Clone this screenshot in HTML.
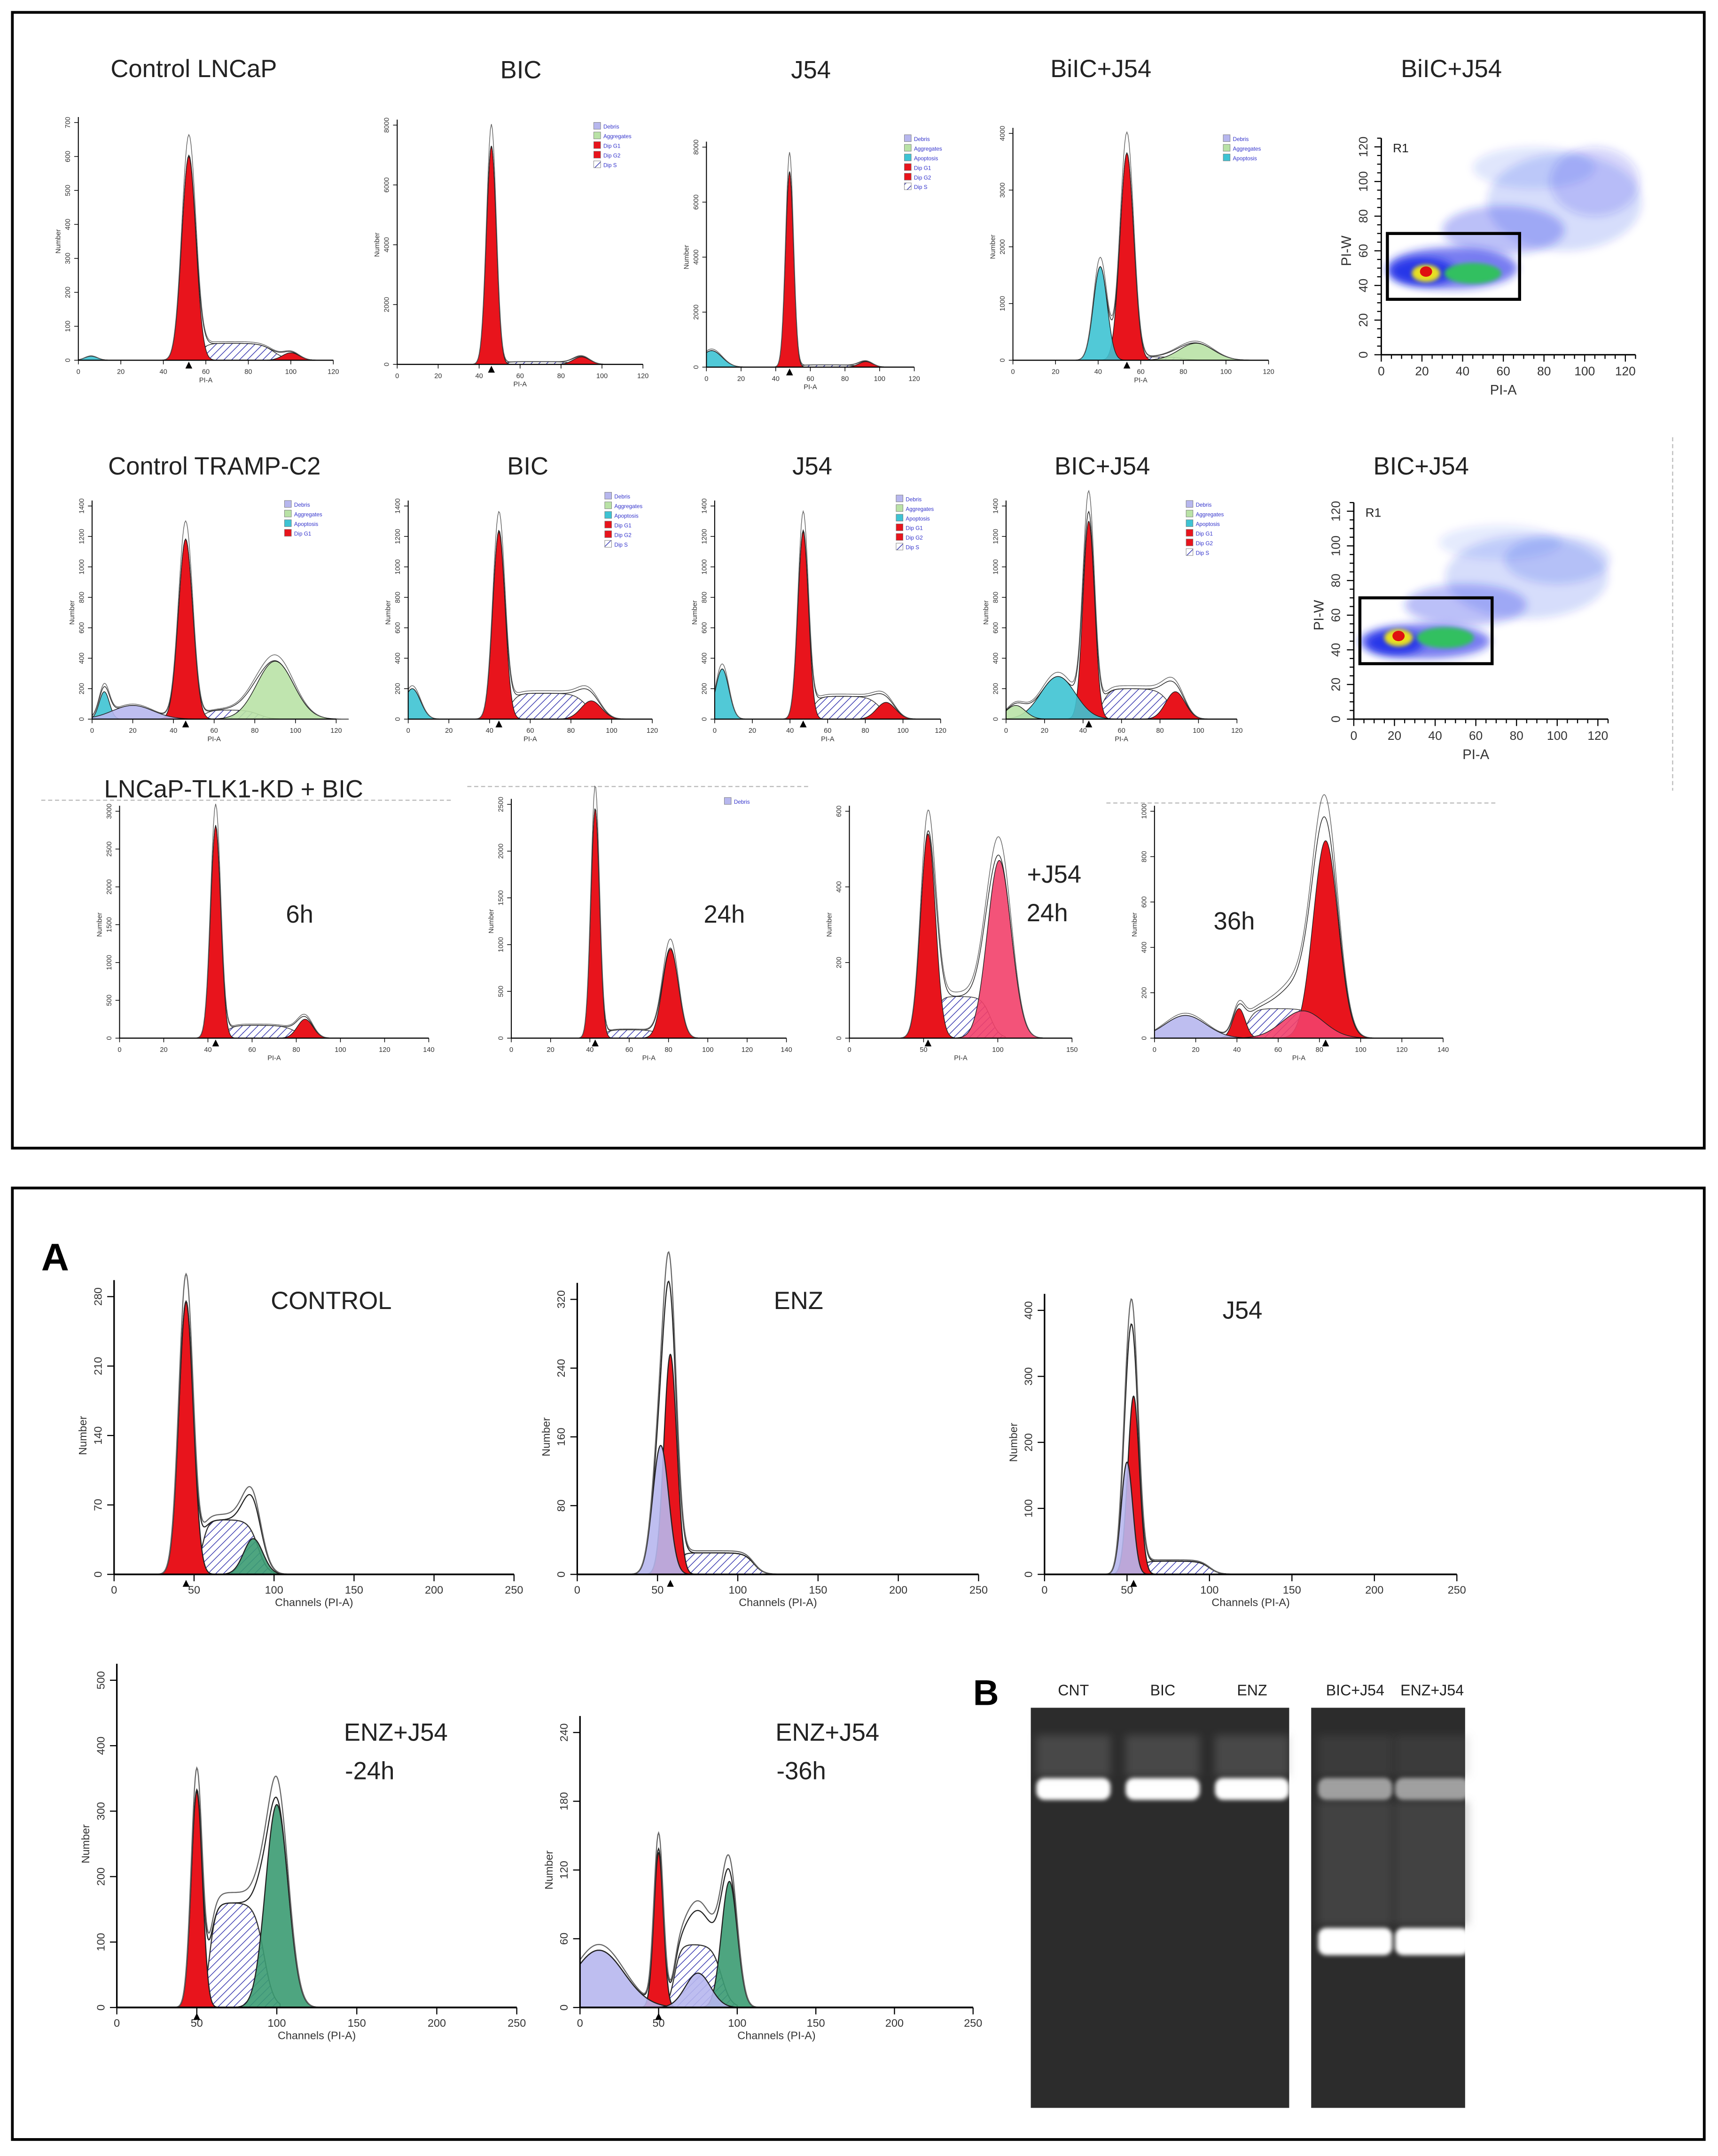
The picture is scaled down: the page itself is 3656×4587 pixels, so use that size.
<!DOCTYPE html>
<html><head><meta charset="utf-8"><style>
html,body{margin:0;padding:0;background:#fff}
svg{display:block}
text{font-family:"Liberation Sans",sans-serif}
</style></head><body>
<svg id="fig" xmlns="http://www.w3.org/2000/svg" width="3656" height="4587" viewBox="0 0 1250 1568" preserveAspectRatio="none">
<defs>
<pattern id="hatch" patternUnits="userSpaceOnUse" width="4" height="4" patternTransform="rotate(45)">
<rect width="4" height="4" fill="#fff"/><line x1="0" y1="0" x2="0" y2="4" stroke="#3a3ab0" stroke-width="1"/></pattern>
<filter id="blur" x="-50%" y="-50%" width="200%" height="200%"><feGaussianBlur stdDeviation="3"/></filter>
<filter id="blur2" x="-50%" y="-50%" width="200%" height="200%"><feGaussianBlur stdDeviation="1.5"/></filter>
</defs>
<rect x="0" y="0" width="1250" height="1568" fill="#fff"/>
<rect x="9" y="9" width="1231" height="826" fill="none" stroke="#000" stroke-width="2"/>
<rect x="9" y="864" width="1231" height="692" fill="none" stroke="#000" stroke-width="2"/>
<g id="titles" font-size="18" fill="#222">
<text x="141" y="56" text-anchor="middle">Control LNCaP</text>
<text x="379" y="57" text-anchor="middle">BIC</text>
<text x="590" y="57" text-anchor="middle">J54</text>
<text x="801" y="56" text-anchor="middle">BiIC+J54</text>
<text x="1056" y="56" text-anchor="middle">BiIC+J54</text>
<text x="156" y="345" text-anchor="middle">Control TRAMP-C2</text>
<text x="384" y="345" text-anchor="middle">BIC</text>
<text x="591" y="345" text-anchor="middle">J54</text>
<text x="802" y="345" text-anchor="middle">BIC+J54</text>
<text x="1034" y="345" text-anchor="middle">BIC+J54</text>
<text x="170" y="580" text-anchor="middle">LNCaP-TLK1-KD + BIC</text>
<text x="218" y="671" text-anchor="middle">6h</text>
<text x="527" y="671" text-anchor="middle">24h</text>
<text x="767" y="642" text-anchor="middle">+J54</text>
<text x="762" y="670" text-anchor="middle">24h</text>
<text x="898" y="676" text-anchor="middle">36h</text>
<text x="241" y="952" text-anchor="middle">CONTROL</text>
<text x="581" y="952" text-anchor="middle">ENZ</text>
<text x="904" y="959" text-anchor="middle">J54</text>
<text x="288" y="1266" text-anchor="middle">ENZ+J54</text>
<text x="269" y="1294" text-anchor="middle">-24h</text>
<text x="602" y="1266" text-anchor="middle">ENZ+J54</text>
<text x="583" y="1294" text-anchor="middle">-36h</text>
</g>
<text x="30" y="924" font-size="28" font-weight="bold">A</text>
<text x="708" y="1240" font-size="26" font-weight="bold">B</text>
<line x1="30" y1="582" x2="330" y2="582" stroke="#bbb" stroke-width="0.8" stroke-dasharray="3,2"/>
<line x1="340" y1="572" x2="590" y2="572" stroke="#bbb" stroke-width="0.8" stroke-dasharray="3,2"/>
<line x1="805" y1="584" x2="1090" y2="584" stroke="#bbb" stroke-width="0.8" stroke-dasharray="3,2"/>
<line x1="1217" y1="318" x2="1217" y2="575" stroke="#bbb" stroke-width="0.8" stroke-dasharray="3,2"/>
<g id="charts"></g>
<g id="gel"></g>
</svg>
<script>
// ---- histogram data: components [center, height, sigma]; S-phase [lo, hi, height]
const t1Comps=[[52,600,3.3],[100,22,4],[6,12,3]];
const t1S=[57,92,50];
const t2Comps=[[46,7300,2.4],[90,250,4]];
const t2S=[52,86,90];
const t3Comps=[[48,7100,2.3],[3,600,6],[92,200,4]];
const t3S=[53,88,80];
const t4Comps=[[53.5,3650,3.2],[41,1650,3.2],[86,300,8]];
const t4S=[58,80,60];
const r1Comps=[[46,1180,3.5],[90,380,9],[6,180,2.5],[20,90,10]];
const r1S=[55,82,60];
const r2Comps=[[44.6,1230,3],[90,120,5],[2,200,4]];
const r2S=[50,88,170];
const r3Comps=[[47,1230,2.8],[4,330,3.5],[91,110,5]];
const r3S=[52,88,150];
const r4Comps=[[43,1300,3],[27,280,9],[88,180,5],[5,90,5]];
const r4S=[50,85,200];
const b1Comps=[[43.5,2800,2.3],[84,250,3.5]];
const b1S=[48,80,170];
const b2Comps=[[42.7,2450,2.2],[81,950,4]];
const b2S=[47,76,90];
const b3Comps=[[53,540,5],[101,470,8]];
const b3S=[58,95,110];
const b4Comps=[[83,870,6],[41,130,3],[15,100,10],[72,120,10]];
const b4S=[45,80,130];
const c1Comps=[[45,275,4.5],[87,36,6]];
const c1S=[55,90,55];
const c2Comps=[[58,256,4],[52,150,5]];
const c2S=[62,110,25];
const c3Comps=[[54,270,3.5],[50,170,3.5]];
const c3S=[58,100,20];
const c4Comps=[[50,330,3.5],[100,310,7]];
const c4S=[58,92,160];
const c5Comps=[[50,135,3],[95,110,5],[12,50,16],[75,30,8]];
const c5S=[60,90,55];
// tick labels
const tickX120=[0,20,40,60,80,100,120];
const tickX140=[0,20,40,60,80,100,120,140];
const tickX150=[0,50,100,150];
const tickX250=[0,50,100,150,200,250];
const tickY700=[0,100,200,300,400,500,600,700];
const tickY8000=[0,2000,4000,6000,8000];
const tickY4000=[0,1000,2000,3000,4000];
const tickY1400=[0,200,400,600,800,1000,1200,1400];
const tickY3000=[0,500,1000,1500,2000,2500,3000];
const tickY2500=[0,500,1000,1500,2000,2500];
const tickY600=[0,200,400,600];
const tickY1000=[0,200,400,600,800,1000];
const tickYc1=[0,70,140,210,280];
const tickYc2=[0,80,160,240,320];
const tickYc3=[0,100,200,300,400];
const tickYc4=[0,100,200,300,400,500];
const tickYc5=[0,60,120,180,240];
// scatter data: density regions [PI-A center, PI-W center, rx, ry, opacity]
const sc1Blobs=[[90,88,38,28,0.16],[105,100,22,20,0.18],[60,72,30,14,0.3],[35,50,32,12,0.6],[20,48,16,8,0.85],[75,108,30,12,0.12]];
const sc2Blobs=[[85,82,40,24,0.16],[100,92,26,14,0.16],[55,66,30,12,0.3],[35,45,32,10,0.6],[20,44,14,7,0.85],[72,102,30,10,0.1]];
const gelLanes=['CNT','BIC','ENZ','BIC+J54','ENZ+J54'];
const gelUpper=[1,1,1,0.55,0.55];
const gelLower=[0,0,0,1,1];

const NS='http://www.w3.org/2000/svg';
const root=document.getElementById('charts');
function mk(tag,attrs,parent){const e=document.createElementNS(NS,tag);for(const k in attrs)e.setAttribute(k,attrs[k]);(parent||root).appendChild(e);return e;}
const COL={red:'#e8141c',cyan:'#3ec3d3',lg:'#b9e2a6',dg:'#3b9b72',lav:'#b7b7ee',pink:'#f2406a'};
function gauss(x,c,h,s){return h*Math.exp(-0.5*((x-c)/s)**2);}
function sig(v){return 1/(1+Math.exp(-v));}
function sfun(x,S){return S[2]*sig((x-S[0])/2)*sig((S[1]-x)/3);}

function histo(name,cfg,comps,cols,S,xt,yt){
  const g=mk('g',{});
  
  
  const X=v=>cfg.x0+v*cfg.xu, Y=v=>cfg.base-v*cfg.yu;
  const sw=cfg.big?0.8:0.5, fs=cfg.big?8:5;
  if(S){let d='M'+X(S[0]-8)+','+Y(0);for(let x=S[0]-8;x<=S[1]+10;x+=0.5)d+=' L'+X(x).toFixed(2)+','+Y(sfun(x,S)).toFixed(2);d+=' L'+X(S[1]+10)+','+Y(0)+'Z';
    const p=mk('path',{d:d,fill:'url(#hatch)',stroke:'#333','stroke-width':sw},g);
    
    }
  comps.forEach((c,i)=>{const a=Math.max(0,c[0]-4*c[2]), b=c[0]+4*c[2];
    let d='M'+X(a)+','+Y(0);for(let x=a;x<=b;x+=0.25)d+=' L'+X(x).toFixed(2)+','+Y(gauss(x,c[0],c[1],c[2])).toFixed(2);d+=' L'+X(b)+','+Y(0)+'Z';
    const p=mk('path',{d:d,fill:COL[cols[i]],'fill-opacity':cols[i]==='red'?1:0.9,stroke:'#222','stroke-width':sw},g);
    
    });
  const xmax=xt[xt.length-1];
  [1.0,1.1].forEach((f,k)=>{let d='';for(let x=0;x<=xmax*0.95;x+=0.5){let t=0;comps.forEach(c=>t+=gauss(x,c[0],c[1],c[2]));if(S)t+=sfun(x,S);d+=(d?' L':'M')+X(x).toFixed(2)+','+Y(t*f).toFixed(2);}
    const p=mk('path',{d:d,fill:'none',stroke:k?'#666':'#222','stroke-width':sw},g);
    
    });
  const xa=mk('line',{x1:X(0),y1:Y(0),x2:X(xmax),y2:Y(0),stroke:'#000','stroke-width':sw*1.6},g);
  
  
  const ya=mk('line',{x1:X(0),y1:Y(0),x2:X(0),y2:Y(yt[yt.length-1])-(cfg.big?12:4),stroke:'#000','stroke-width':sw*1.4},g);
  
  
  xt.forEach(v=>{mk('line',{x1:X(v),y1:Y(0),x2:X(v),y2:Y(0)+(cfg.big?5:3),stroke:'#000','stroke-width':sw},g);
    const t=mk('text',{x:X(v),y:Y(0)+(cfg.big?14:10),'font-size':fs,'text-anchor':'middle',fill:'#333'},g);t.textContent=v;
    
    });
  yt.forEach(v=>{mk('line',{x1:X(0)-(cfg.big?5:3),y1:Y(v),x2:X(0),y2:Y(v),stroke:'#000','stroke-width':sw},g);
    const t=mk('text',{x:X(0)-(cfg.big?9:6),y:Y(v),'font-size':fs,'text-anchor':'middle',fill:'#333',transform:'rotate(-90 '+(X(0)-(cfg.big?9:6))+' '+Y(v)+')'},g);t.textContent=v;
    
    });
  const tri=mk('path',{d:'M'+(X(comps[0][0])-2.5)+','+(Y(0)+(cfg.big?9:6))+' l2.5,-5 l2.5,5Z',fill:'#000'},g);
  
  
  const xl=mk('text',{x:X(xmax/2),y:Y(0)+(cfg.big?23:16),'font-size':fs,'text-anchor':'middle',fill:'#333'},g);xl.textContent=cfg.big?'Channels (PI-A)':'PI-A';
  
  
  const ymid=Y(yt[yt.length-1]/2), yx=X(0)-(cfg.big?20:13);
  const yl=mk('text',{x:yx,y:ymid,'font-size':fs,'text-anchor':'middle',fill:'#333',transform:'rotate(-90 '+yx+' '+ymid+')'},g);yl.textContent='Number';
  
  
  if(cfg.legend){const lg=mk('g',{},g);
    cfg.legend.forEach((l,i)=>{mk('rect',{x:cfg.lx,y:cfg.ly+i*7,width:5,height:5,fill:COL[l[1]]||'url(#hatch)',stroke:'#777','stroke-width':0.3},lg);
      const t=mk('text',{x:cfg.lx+7,y:cfg.ly+i*7+4.5,'font-size':4,fill:'#33c'},lg);t.textContent=l[0];});}
}
const LEG1=[['Debris','lav'],['Aggregates','lg'],['Dip G1','red'],['Dip G2','red'],['Dip S','h']];
const LEG2=[['Debris','lav'],['Aggregates','lg'],['Apoptosis','cyan'],['Dip G1','red'],['Dip G2','red'],['Dip S','h']];
histo('hist-control-lncap',{x0:57,xu:1.546,base:262,yu:0.247},t1Comps,['red','red','cyan'],t1S,tickX120,tickY700);
histo('hist-bic-1',{x0:289,xu:1.49,base:265,yu:174/8000,legend:LEG1,lx:432,ly:89},t2Comps,['red','red'],t2S,tickX120,tickY8000);
histo('hist-j54-1',{x0:514,xu:1.26,base:267,yu:160/8000,legend:LEG2,lx:658,ly:98},t3Comps,['red','cyan','red'],t3S,tickX120,tickY8000);
histo('hist-bic-j54-1',{x0:737,xu:1.55,base:262,yu:165/4000,legend:[['Debris','lav'],['Aggregates','lg'],['Apoptosis','cyan']],lx:890,ly:98},t4Comps,['red','cyan','lg'],t4S,tickX120,tickY4000);
histo('hist-control-tramp',{x0:67,xu:1.48,base:523,yu:155/1400,legend:[['Debris','lav'],['Aggregates','lg'],['Apoptosis','cyan'],['Dip G1','red']],lx:207,ly:364},r1Comps,['red','lg','cyan','lav'],r1S,tickX120,tickY1400);
histo('hist-bic-2',{x0:297,xu:1.48,base:523,yu:155/1400,legend:LEG2,lx:440,ly:358},r2Comps,['red','red','cyan'],r2S,tickX120,tickY1400);
histo('hist-j54-2',{x0:520,xu:1.37,base:523,yu:155/1400,legend:LEG2,lx:652,ly:360},r3Comps,['red','cyan','red'],r3S,tickX120,tickY1400);
histo('hist-bic-j54-2',{x0:732,xu:1.4,base:523,yu:155/1400,legend:LEG2,lx:863,ly:364},r4Comps,['red','cyan','red','lg'],r4S,tickX120,tickY1400);
histo('hist-tlk1-6h',{x0:87,xu:1.607,base:755,yu:165/3000},b1Comps,['red','red'],b1S,tickX140,tickY3000);
histo('hist-tlk1-24h',{x0:372,xu:1.43,base:755,yu:170/2500,legend:[['Debris','lav']],lx:527,ly:580},b2Comps,['red','red'],b2S,tickX140,tickY2500);
histo('hist-tlk1-j54-24h',{x0:618,xu:1.08,base:755,yu:165/600},b3Comps,['red','pink'],b3S,tickX150,tickY600);
histo('hist-tlk1-36h',{x0:840,xu:1.5,base:755,yu:165/1000},b4Comps,['red','red','lav','pink'],b4S,tickX140,tickY1000);
histo('hist-control',{x0:83,xu:1.164,base:1145,yu:50.5/70,big:1},c1Comps,['red','dg'],c1S,tickX250,tickYc1);
histo('hist-enz',{x0:420,xu:1.168,base:1145,yu:50/80,big:1},c2Comps,['red','lav'],c2S,tickX250,tickYc2);
histo('hist-j54',{x0:760,xu:1.2,base:1145,yu:48/100,big:1},c3Comps,['red','lav'],c3S,tickX250,tickYc3);
histo('hist-enz-j54-24h',{x0:85,xu:1.164,base:1460,yu:47.6/100,big:1},c4Comps,['red','dg'],c4S,tickX250,tickYc4);
histo('hist-enz-j54-36h',{x0:422,xu:1.144,base:1460,yu:50/60,big:1},c5Comps,['red','dg','lav','lav'],c5S,tickX250,tickYc5);

function scatter(name,x0,base,xu,yu,blobs,box){
  const g=mk('g',{});
  
  
  const X=v=>x0+v*xu, Y=v=>base-v*yu;
  blobs.forEach((b,i)=>{const e=mk('ellipse',{cx:X(b[0]),cy:Y(b[1]),rx:b[2]*xu,ry:b[3]*yu,fill:'#1a2ae8','fill-opacity':b[4],filter:'url(#blur)'},g);
    
    });
  const h1=mk('ellipse',{cx:X(45),cy:Y(47),rx:14*xu,ry:6*yu,fill:'#30c060',filter:'url(#blur2)'},g);
  
  const h2=mk('ellipse',{cx:X(22),cy:Y(47),rx:7*xu,ry:5*yu,fill:'#e8e020',filter:'url(#blur2)'},g);
  
  const h3=mk('ellipse',{cx:X(22),cy:Y(48),rx:3*xu,ry:3*yu,fill:'#e01010'},g);
  
  const r=mk('rect',{x:X(box[0]),y:Y(box[3]),width:(box[2]-box[0])*xu,height:(box[3]-box[1])*yu,fill:'none',stroke:'#000','stroke-width':2.2},g);
  
  const rl=mk('text',{x:X(box[0])+4,y:Y(120)+4,'font-size':9,fill:'#222'},g);rl.textContent='R1';
  mk('line',{x1:X(0),y1:Y(0),x2:X(125),y2:Y(0),stroke:'#000','stroke-width':1},g);
  mk('line',{x1:X(0),y1:Y(0),x2:X(0),y2:Y(125),stroke:'#000','stroke-width':1},g);
  for(let v=0;v<=125;v+=5){const L=v%20===0?5:3;mk('line',{x1:X(v),y1:Y(0),x2:X(v),y2:Y(0)+L,stroke:'#000','stroke-width':0.8},g);mk('line',{x1:X(0)-L,y1:Y(v),x2:X(0),y2:Y(v),stroke:'#000','stroke-width':0.8},g);}
  tickX120.forEach(v=>{const t=mk('text',{x:X(v),y:Y(0)+15,'font-size':9,'text-anchor':'middle',fill:'#333'},g);t.textContent=v;
    const s=mk('text',{x:X(0)-10,y:Y(v),'font-size':9,'text-anchor':'middle',fill:'#333',transform:'rotate(-90 '+(X(0)-10)+' '+Y(v)+')'},g);s.textContent=v;});
  const xl=mk('text',{x:X(60),y:Y(0)+29,'font-size':10,'text-anchor':'middle',fill:'#333'},g);xl.textContent='PI-A';
  
  const yl=mk('text',{x:X(0)-22,y:Y(60),'font-size':10,'text-anchor':'middle',fill:'#333',transform:'rotate(-90 '+(X(0)-22)+' '+Y(60)+')'},g);yl.textContent='PI-W';
  
}
scatter('scatter-bic-j54-1',1005,258,1.48,1.26,sc1Blobs,[3,32,68,70]);
scatter('scatter-bic-j54-2',985,523,1.48,1.26,sc2Blobs,[3,32,68,70]);

const gel=document.getElementById('gel');
const gr1=mk('rect',{x:750,y:1242,width:188,height:291,fill:'#2c2c2c'},gel);

const gr2=mk('rect',{x:954,y:1242,width:112,height:291,fill:'#2c2c2c'},gel);

const laneX=[781,846,911,986,1042];
gelLanes.forEach((n,i)=>{
  const t=mk('text',{x:laneX[i],y:1233,'font-size':11,'text-anchor':'middle',fill:'#222'},gel);t.textContent=n;
  
  if(gelUpper[i]>0){const b=mk('rect',{x:laneX[i]-27,y:1293,width:54,height:16,rx:6,fill:'#fff','fill-opacity':gelUpper[i],filter:'url(#blur2)'},gel);
    
    mk('rect',{x:laneX[i]-27,y:1262,width:54,height:30,fill:'#888','fill-opacity':0.3*gelUpper[i],filter:'url(#blur)'},gel);}
  if(gelLower[i]>0){const b=mk('rect',{x:laneX[i]-27,y:1402,width:54,height:20,rx:6,fill:'#fff','fill-opacity':gelLower[i],filter:'url(#blur2)'},gel);
    
    mk('rect',{x:laneX[i]-27,y:1310,width:54,height:90,fill:'#777','fill-opacity':0.3,filter:'url(#blur)'},gel);}
});
</script>
</body></html>
